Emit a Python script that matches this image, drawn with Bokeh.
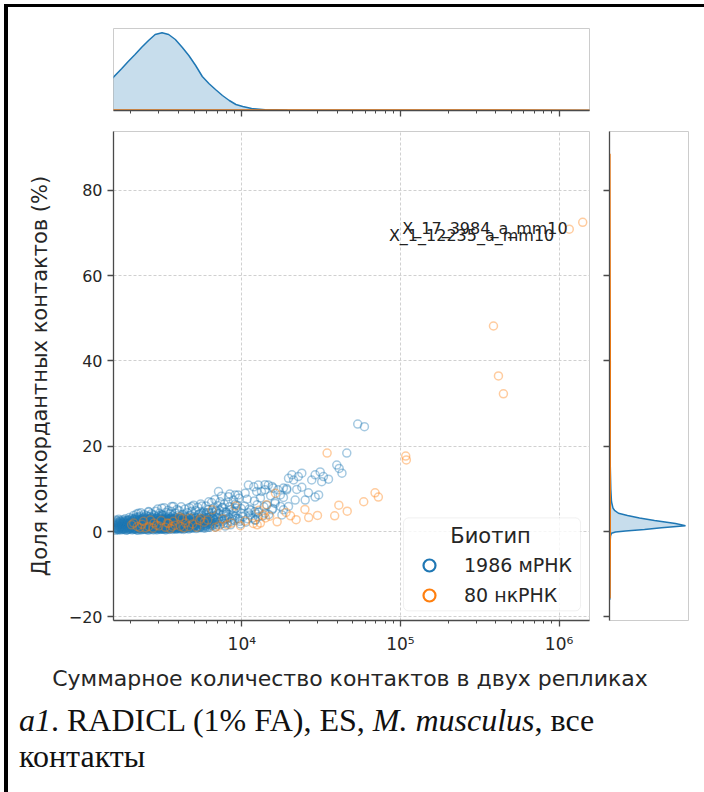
from bokeh.plotting import figure
from bokeh.models import (FixedTicker, Range1d, Legend, LegendItem, BoxAnnotation,
                          Label, Div, Spacer, BasicTickFormatter)
from bokeh.layouts import column, row
from bokeh.embed import file_html
from bokeh.resources import INLINE
from bokeh.core.properties import value

# ---------------- data ----------------
# mRNA: (total contacts in two replicates, concordant share %)
mrna_points = [
    (1590, 0.6), (1600, 1.4), (1615, 2.2), (1630, 0.9), (1650, 1.8), (1670, 0.4), (1690, 1.2), (1710, 2.6), (1725, 0.8), (1740, 1.6), (1760, 2.0), (1775, 0.5),
    (1785, 1.1), (1795, 2.4), (1810, 0.5), (1825, 1.7), (1840, 3.0), (1855, 0.9), (1870, 2.1), (1880, 1.4), (1895, 0.4), (1910, 2.7), (1925, 1.0), (1940, 1.9), (1955, 3.3), (1965, 0.7), (1980, 1.5), (1990, 2.3),
    (2000, 0.8), (2010, 1.9), (2025, 3.1), (2040, 0.4), (2050, 1.3), (2065, 2.5), (2080, 3.8), (2090, 0.9), (2105, 1.7), (2120, 2.9), (2130, 0.5), (2145, 1.2), (2160, 2.2), (2170, 4.1), (2185, 0.8), (2195, 1.6), (2210, 3.4), (2220, 0.3), (2230, 2.0), (2235, 1.1),
    (2245, 1.5), (2255, 2.8), (2265, 0.6), (2280, 3.6), (2290, 1.0), (2300, 2.1), (2315, 4.4), (2325, 0.4), (2335, 1.7), (2350, 2.6), (2360, 0.9), (2375, 3.2), (2385, 1.3), (2400, 2.0), (2410, 0.5), (2420, 4.0), (2435, 1.1), (2445, 2.4), (2455, 3.0), (2470, 0.7), (2480, 1.8), (2490, 2.9), (2500, 1.2), (2508, 3.8),
    (2520, 0.6), (2530, 2.2), (2545, 1.4), (2555, 3.5), (2570, 0.3), (2580, 1.9), (2595, 4.6), (2605, 1.0), (2620, 2.7), (2630, 0.8), (2645, 1.6), (2655, 3.1), (2670, 2.3), (2680, 0.5), (2690, 4.2), (2705, 1.3), (2715, 2.0), (2730, 0.9), (2740, 3.4), (2750, 1.7), (2765, 2.6), (2775, 0.4), (2785, 1.1), (2795, 3.9), (2805, 2.1), (2815, 1.5),
    (2825, 2.9), (2835, 0.7), (2850, 1.6), (2860, 4.8), (2875, 2.3), (2885, 1.0), (2900, 3.3), (2915, 0.4), (2925, 1.9), (2940, 2.6), (2950, 5.3), (2965, 1.2), (2975, 3.7), (2990, 0.8), (3000, 2.0), (3015, 1.4), (3025, 4.3), (3040, 2.8), (3050, 0.5), (3065, 1.7), (3075, 3.0), (3090, 1.1), (3100, 2.4), (3115, 4.0), (3125, 0.9), (3140, 1.5), (3150, 3.5), (3160, 2.1),
    (3170, 1.3), (3185, 3.9), (3195, 0.6), (3210, 2.2), (3225, 1.7), (3240, 5.6), (3250, 2.9), (3265, 0.9), (3280, 1.5), (3295, 3.4), (3305, 2.5), (3320, 0.4), (3335, 4.5), (3350, 1.2), (3360, 2.0), (3375, 3.1), (3390, 0.8), (3400, 1.8), (3415, 2.7), (3430, 5.0), (3440, 1.0), (3455, 3.6), (3470, 2.3), (3480, 0.5), (3495, 1.6), (3510, 4.1), (3525, 2.6), (3540, 1.1),
    (3555, 3.0), (3570, 0.7), (3590, 2.0), (3605, 4.7), (3620, 1.4), (3640, 2.8), (3655, 0.5), (3670, 3.7), (3690, 1.9), (3705, 5.9), (3720, 1.1), (3740, 2.5), (3755, 3.3), (3770, 0.8), (3790, 1.6), (3805, 4.3), (3820, 2.2), (3840, 1.0), (3855, 3.0), (3870, 0.6), (3890, 1.8), (3905, 5.2), (3920, 2.6), (3940, 1.3), (3955, 3.8), (3975, 2.0),
    (3990, 1.0), (4010, 2.9), (4030, 4.9), (4050, 1.7), (4070, 0.6), (4090, 3.5), (4110, 2.3), (4130, 1.2), (4150, 5.8), (4170, 2.7), (4190, 0.9), (4210, 1.9), (4230, 4.0), (4250, 3.1), (4270, 1.4), (4290, 0.5), (4310, 2.4), (4330, 3.9), (4350, 1.1), (4370, 2.0), (4390, 5.3), (4410, 2.8), (4430, 1.5), (4455, 3.3),
    (4480, 0.8), (4510, 2.2), (4540, 4.4), (4570, 1.6), (4600, 3.0), (4630, 0.6), (4660, 5.6), (4690, 2.5), (4720, 1.3), (4750, 3.8), (4780, 2.0), (4810, 0.9), (4840, 4.8), (4870, 1.8), (4900, 3.2), (4930, 2.7), (4955, 1.1), (4975, 6.2), (4990, 2.3), (5005, 3.6),
    (5030, 1.4), (5070, 3.1), (5110, 4.9), (5150, 0.7), (5190, 2.6), (5230, 1.8), (5270, 5.7), (5310, 3.4), (5350, 2.1), (5390, 1.0), (5430, 4.2), (5470, 2.8), (5510, 6.5), (5550, 1.6), (5590, 3.7), (5610, 2.4), (5130, 2.0), (5450, 0.9),
    (5650, 2.9), (5700, 1.2), (5750, 4.6), (5800, 3.3), (5850, 0.8), (5900, 2.1), (5950, 6.0), (6000, 3.9), (6050, 1.6), (6100, 5.1), (6150, 2.5), (6200, 7.0), (6250, 1.0), (6290, 3.5), (5980, 4.4), (6120, 2.2),
    (6350, 2.0), (6420, 4.3), (6490, 1.4), (6560, 3.1), (6630, 5.5), (6700, 2.6), (6770, 7.5), (6840, 1.1), (6910, 3.9), (6980, 2.3), (7040, 6.1), (6600, 1.8), (6880, 4.8), (6450, 6.8),
    (7150, 3.0), (7250, 5.0), (7350, 1.7), (7450, 8.3), (7550, 2.4), (7650, 4.1), (7750, 6.4), (7850, 1.3), (7920, 3.6), (7300, 7.0), (7600, 5.7), (7800, 2.8),
    (8000, 4.5), (8100, 2.0), (8200, 6.9), (8300, 3.3), (8400, 8.8), (8500, 1.6), (8600, 5.2), (8700, 2.9), (8850, 7.4), (8250, 4.0), (8750, 3.8),
    (9000, 2.6), (9200, 5.5), (9400, 3.1), (9600, 7.8), (9800, 1.8), (9950, 4.3), (9100, 6.4), (9500, 8.6), (9700, 2.4), (9300, 4.9),
    (10200, 3.5), (10400, 6.0), (10600, 2.2), (10800, 7.6), (11000, 4.4), (11150, 5.3), (10500, 9.0), (10900, 3.0),
    (11400, 5.0), (11700, 3.2), (12000, 7.2), (12300, 4.1), (12500, 6.3), (11900, 10.5), (12200, 2.7),
    (12800, 4.6), (13100, 7.9), (13500, 3.6), (13800, 5.8), (14000, 11.0), (13300, 9.4),
    (14400, 6.2), (14800, 4.0), (15200, 8.4), (15500, 10.6), (15700, 5.4),
    (16200, 7.0), (16900, 9.8), (17500, 5.9), (18300, 8.0), (19200, 10.1),
    (53800, 25.2), (59300, 24.6), (45900, 18.4), (39700, 15.6), (41100, 14.8), (42800, 13.7),
    (35200, 12.3), (31900, 11.7), (32700, 12.9), (31200, 14.0), (27600, 12.1), (29000, 13.3),
    (23900, 13.7), (22700, 12.9), (20700, 13.3), (19700, 12.5), (21200, 12.1),
    (23900, 10.4), (26300, 9.1), (29000, 8.1), (30500, 8.6), (25100, 7.4), (22200, 9.9), (21700, 7.4),
    (18300, 10.2), (19200, 9.8), (17500, 8.6), (15800, 10.2), (14700, 10.9), (14000, 9.8),
    (12700, 10.9), (11000, 10.9), (12400, 9.4), (7130, 9.4), (8240, 8.2), (9080, 8.6),
    (16200, 6.6), (15500, 5.1), (14000, 4.3), (12100, 4.7), (18300, 5.1), (19700, 5.9), (17900, 3.9),
    (12100, 2.7), (12700, 3.5), (11300, 3.9), (5600, 6.0), (4840, 5.9), (3620, 5.9), (3130, 5.5),
    (2580, 4.7), (2230, 4.3),
]
# mRNA points inside the dense core (same series)
mrna_core_points = [
    (1585, 1.0), (1595, 1.9), (1605, 0.3), (1620, 1.2), (1635, 2.5), (1645, 0.7), (1660, 1.5), (1675, 2.9), (1685, 0.5), (1700, 1.9), (1715, 1.0), (1735, 2.3), (1750, 0.6), (1765, 1.3), (1780, 2.8), (1800, 1.6), (1815, 0.8), (1830, 2.2), (1850, 1.4), (1865, 0.3), (1885, 1.9), (1900, 1.0), (1920, 2.5), (1935, 0.6), (1950, 1.4), (1970, 2.0), (1985, 0.9),
    (2005, 2.6), (2020, 1.0), (2035, 1.7), (2055, 0.6), (2070, 2.0), (2085, 1.4), (2100, 3.0), (2115, 0.7), (2135, 1.9), (2150, 2.7), (2165, 1.1), (2180, 0.4), (2200, 2.4), (2215, 1.5), (2240, 0.7), (2250, 3.2), (2270, 1.2), (2285, 2.3), (2305, 0.8), (2320, 1.6), (2340, 3.0), (2355, 2.0), (2370, 0.6), (2390, 1.5), (2405, 2.7), (2425, 1.0), (2440, 1.9), (2460, 0.5), (2475, 2.4), (2495, 1.6),
    (2515, 2.9), (2535, 1.1), (2550, 0.5), (2565, 2.0), (2585, 1.3), (2600, 3.0), (2615, 0.7), (2635, 1.8), (2650, 2.4), (2665, 1.0), (2685, 3.3), (2700, 1.6), (2720, 0.6), (2735, 2.2), (2755, 1.2), (2770, 2.9), (2790, 0.7), (2810, 1.9), (2830, 1.2), (2845, 2.5), (2865, 0.6), (2880, 1.7), (2895, 2.2), (2910, 1.0), (2930, 3.0), (2945, 1.6), (2960, 0.6), (2980, 2.4), (2995, 1.3), (3010, 0.7), (3030, 2.0), (3045, 1.2), (3060, 2.9), (3080, 0.6), (3095, 1.8), (3110, 2.5), (3130, 1.0), (3145, 3.1), (3165, 0.8),
    (3180, 1.9), (3200, 2.7), (3220, 1.0), (3235, 0.5), (3255, 1.6), (3270, 2.4), (3290, 0.9), (3310, 1.9), (3330, 3.0), (3345, 0.7), (3370, 1.5), (3385, 2.3), (3405, 1.1), (3425, 0.6), (3445, 2.0), (3465, 1.4), (3485, 2.9), (3505, 0.8), (3520, 1.7), (3545, 2.3), (3565, 1.0), (3580, 3.3), (3600, 0.9), (3625, 2.2), (3645, 1.2), (3665, 2.6), (3685, 0.7), (3710, 1.5), (3730, 3.0), (3750, 1.0), (3775, 2.1), (3800, 1.3), (3825, 0.6), (3845, 2.5), (3865, 1.5), (3895, 0.8), (3915, 2.0), (3935, 1.0), (3960, 2.9), (3985, 1.6),
    (4020, 0.8), (4040, 2.2), (4060, 1.3), (4080, 3.0), (4100, 1.0), (4120, 1.8), (4140, 2.6), (4165, 0.7), (4185, 1.6), (4205, 3.2), (4225, 1.2), (4245, 2.1), (4265, 0.8), (4285, 1.7), (4305, 3.0), (4325, 1.0), (4345, 2.3), (4365, 1.4), (4385, 0.7), (4405, 2.0), (4425, 3.5), (4445, 1.1), (4470, 2.4), (4500, 1.3), (4530, 0.9), (4560, 2.8), (4590, 1.9), (4620, 1.1), (4650, 3.4), (4680, 1.6), (4710, 0.8), (4740, 2.2), (4770, 1.3), (4800, 3.0), (4830, 1.0), (4860, 2.5), (4890, 1.5), (4920, 0.8), (4950, 2.0), (4980, 1.2),
    (5050, 2.5), (5090, 1.3), (5120, 3.3), (5170, 1.9), (5210, 0.9), (5250, 2.7), (5290, 1.6), (5330, 4.0), (5370, 1.2), (5410, 2.3), (5460, 3.1), (5500, 1.1), (5540, 2.0), (5580, 4.4), (5630, 1.5), (5680, 2.6), (5720, 0.9), (5780, 3.0), (5830, 1.8), (5880, 4.0), (5930, 1.3), (5990, 2.5), (6040, 3.3), (6090, 1.0), (6140, 2.0), (6190, 4.5), (6240, 2.9), (6300, 1.5), (6380, 3.4), (6470, 2.4), (6540, 4.6), (6620, 1.5), (6720, 3.6), (6800, 2.1), (6900, 5.0), (6960, 1.6),
    (7100, 2.2), (7200, 4.2), (7400, 2.9), (7500, 5.6), (7700, 1.9), (7900, 4.6), (8050, 3.0), (8350, 5.8), (8550, 2.4), (8800, 4.8), (9050, 3.6), (9350, 6.2), (9650, 2.9), (9900, 5.4),
]
mrna_core_points_2 = [
    (1588, 1.6), (1598, 0.8), (1612, 2.7), (1625, 1.5), (1640, 0.5), (1655, 2.1), (1665, 1.0), (1680, 1.7), (1695, 0.7), (1705, 2.3), (1720, 1.4), (1730, 0.4), (1745, 2.0), (1755, 1.1), (1770, 1.8), (1790, 0.7), (1805, 2.0), (1820, 1.2), (1835, 0.6), (1845, 2.6), (1860, 1.7), (1875, 0.9), (1890, 2.4), (1905, 1.5), (1915, 0.6), (1930, 2.1), (1945, 1.2), (1960, 2.8), (1975, 0.5), (1995, 1.8),
    (2015, 1.2), (2030, 2.3), (2045, 0.9), (2060, 1.6), (2075, 2.8), (2095, 0.6), (2110, 2.2), (2125, 1.3), (2140, 3.3), (2155, 0.7), (2175, 1.8), (2190, 2.9), (2205, 1.0), (2225, 2.6), (2260, 1.9), (2275, 0.7), (2295, 2.7), (2310, 1.4), (2330, 2.2), (2345, 0.6), (2365, 1.9), (2380, 2.9), (2395, 1.0), (2415, 1.6), (2430, 3.4), (2450, 1.3), (2465, 2.1), (2485, 0.9), (2505, 2.6),
    (2525, 1.7), (2540, 0.8), (2560, 2.5), (2575, 1.2), (2590, 2.1), (2610, 1.6), (2625, 3.6), (2640, 1.1), (2660, 2.0), (2675, 0.9), (2695, 2.6), (2710, 1.1), (2725, 1.9), (2745, 2.7), (2760, 0.8), (2780, 2.0), (2800, 1.3), (2820, 2.4), (2840, 1.0), (2855, 1.9), (2870, 3.1), (2890, 1.3), (2905, 2.5), (2920, 0.9), (2935, 1.6), (2955, 2.2), (2970, 0.9), (2985, 3.2), (3005, 1.6), (3020, 2.5), (3035, 0.9), (3055, 1.5), (3070, 2.2), (3085, 3.4), (3105, 1.4), (3120, 2.0), (3135, 0.6), (3155, 1.8),
    (3175, 2.5), (3190, 1.1), (3215, 3.0), (3230, 1.3), (3245, 2.0), (3260, 0.8), (3285, 2.5), (3300, 1.2), (3325, 2.2), (3340, 1.5), (3355, 2.8), (3380, 0.9), (3395, 2.0), (3420, 1.4), (3435, 2.6), (3450, 0.8), (3475, 1.9), (3490, 2.5), (3515, 1.0), (3535, 3.0),
    (3560, 1.7), (3585, 2.6), (3610, 1.1), (3630, 1.9), (3660, 3.0), (3680, 1.4), (3700, 2.4), (3725, 0.8), (3745, 1.8), (3765, 2.8), (3785, 1.2), (3810, 2.0), (3835, 3.1), (3860, 1.0), (3880, 2.2), (3910, 1.4), (3930, 2.7), (3950, 0.9), (3970, 1.7),
    (4000, 2.4), (4045, 1.4), (4085, 2.1), (4125, 0.9), (4160, 2.4), (4200, 1.5), (4240, 2.7), (4280, 1.0), (4320, 1.8), (4360, 2.8), (4400, 1.2), (4440, 2.2), (4490, 1.7), (4550, 2.4), (4610, 1.3), (4670, 2.1), (4730, 1.6), (4790, 2.6), (4850, 1.3), (4910, 2.3), (4970, 1.6),
    (5060, 1.9), (5160, 2.4), (5280, 1.3), (5400, 2.9), (5520, 1.7), (5660, 2.3), (5810, 1.4), (5960, 3.0), (6110, 1.8), (6260, 2.4), (6420, 1.8), (6600, 3.0), (6780, 2.8), (6950, 3.4),
]
# ncRNA
ncrna_points = [
    (1410000, 72.5), (1160000, 70.9), (386000, 48.2), (415000, 36.5), (446000, 32.3),
    (108000, 17.7), (109000, 16.8), (69200, 9.1), (72600, 8.1),
    (34500, 18.4), (58700, 7.0), (40900, 6.2), (46200, 4.8), (38500, 3.7), (26400, 3.3),
    (20300, 3.7), (16700, 2.3), (14100, 3.2), (13100, 2.0), (12500, 1.6), (16300, 9.0),
    (14300, 6.3), (9120, 6.0), (6500, 5.1), (8090, 1.6), (7160, 1.3), (4640, 1.2),
    (4100, 1.2), (4420, 2.0), (4210, 3.1), (5500, 3.1), (3640, 1.2), (3390, 2.0),
    (3000, 1.3), (2790, 2.0), (2590, 1.2), (2470, 0.9), (2080, 2.0), (2190, 1.2), (2650, 2.7),
    (2900, 1.5), (3300, 1.0), (3700, 2.4), (4900, 1.8), (5200, 1.0), (6100, 2.7), (2350, 1.7),
    (3100, 2.6), (3800, 1.5), (4300, 0.9), (5800, 2.2), (7600, 3.0), (10500, 2.5), (11800, 1.9),
    (15000, 3.6), (2750, 0.8), (3450, 1.9), (4050, 3.4), (6800, 1.0), (8600, 2.0), (12800, 5.0),
    (22000, 2.8), (2020, 1.6), (2400, 2.4), (3550, 0.7), (4700, 3.2), (5400, 2.6), (9800, 1.4),
    (13700, 3.9), (19000, 4.5), (25000, 5.2), (30000, 3.8), (2280, 0.9),
]
mrna_all = mrna_points + mrna_core_points + mrna_core_points_2
mrna_contacts = [q[0] for q in mrna_all]
mrna_pct = [q[1] for q in mrna_all]
ncrna_contacts = [q[0] for q in ncrna_points]
ncrna_pct = [q[1] for q in ncrna_points]

outlier_contacts = [1410000, 1160000]
outlier_pct = [72.5, 70.9]
outlier_labels = ["X_17_3984_a_mm10", "X_1_12235_a_mm10"]

# marginal densities (top: over contacts, right: over %)
top_kde_mrna_x = [1200, 1400, 1552, 1746, 1923, 2123, 2339, 2582, 2844, 3141, 3459, 3811, 4207,
                  4634, 5117, 5636, 6223, 6855, 7551, 8337, 9183, 10139, 11535, 14028, 19409,
                  28708, 60000, 2000000]
top_kde_mrna_h = [18, 26, 33.3, 41.7, 49, 56, 63.3, 70, 76, 77.7, 76, 71, 63.3,
                  55, 45, 34, 26.7, 20.7, 15, 10, 6, 4, 2, 0.7, 0.2,
                  0.05, 0, 0]
top_kde_nc_x = [1200, 5000, 20000, 100000, 400000, 2000000]
top_kde_nc_h = [0.4, 0.6, 0.5, 0.4, 0.4, 0.3]

right_kde_mrna_y = [-16, -3, -1, -0.4, -0.1, 0.15, 0.5, 0.9, 1.4, 1.9, 2.6, 3.2, 3.8, 4.3,
                    5.0, 5.5, 7, 10, 15, 20, 26.5]
right_kde_mrna_w = [0.3, 0.5, 1, 2, 6, 16, 35, 52, 76, 66, 45, 30, 18, 9,
                    5, 3.5, 2, 1.3, 0.8, 0.5, 0.3]
right_kde_nc_y = [-15.6, 0, 20, 40, 60, 88.6]
right_kde_nc_w = [0.5, 0.8, 0.7, 0.8, 0.6, 0.4]

legend_title = "Биотип"
legend_labels = ["1986 мРНК", "80 нкРНК"]
x_label = "Суммарное количество контактов в двух репликах"
y_label = "Доля конкордантных контактов (%)"
caption_html = "<i>a1</i>. RADICL (1% FA), ES, <i>M. musculus</i>, все<br>контакты"

x_major_ticks = [1000, 10000, 100000, 1000000, 10000000]
x_major_labels = ["10³", "10⁴", "10⁵", "10⁶", "10⁷"]
x_minor_ticks = [m * 10 ** e for e in range(3, 7) for m in range(2, 10)]
y_ticks = [-20, 0, 20, 40, 60, 80]
y_tick_labels = ["−20", "0", "20", "40", "60", "80"]

# ---------------- style ----------------
BLUE = "#1f77b4"
ORANGE = "#ff7f0e"
SPINE = "#4a4a4a"
LIGHT = "#cccccc"
TEXT = "#262626"
FONT = "DejaVu Sans"

X_RANGE = Range1d(1553, 1556000)
Y_RANGE = Range1d(-20.84, 93.8)


def base_fig(**kw):
    f = figure(output_backend="svg", toolbar_location=None, **kw)
    f.outline_line_color = LIGHT
    f.outline_line_width = 1
    f.background_fill_color = "white"
    f.border_fill_color = "white"
    return f


def style_axis(ax, show_labels=True):
    ax.axis_line_color = SPINE
    ax.axis_line_width = 1.3
    ax.major_tick_line_color = SPINE
    ax.major_tick_line_width = 1.3
    ax.major_tick_out = 6
    ax.major_tick_in = 0
    ax.minor_tick_line_color = SPINE
    ax.minor_tick_line_width = 1
    ax.minor_tick_out = 3
    ax.minor_tick_in = 0
    ax.major_label_text_font = FONT
    if show_labels:
        ax.major_label_text_font_size = "16px"
        ax.major_label_text_color = TEXT
    else:
        # ticks only: labels are not drawn
        ax.major_label_text_font_size = "1px"
        ax.major_label_text_color = None
        ax.major_label_standoff = 0


x_ticker = FixedTicker(ticks=x_major_ticks, minor_ticks=x_minor_ticks)
x_overrides = dict(zip(x_major_ticks, x_major_labels))
y_ticker = FixedTicker(ticks=y_ticks)
y_overrides = dict(zip(y_ticks, y_tick_labels))

# ---------------- main scatter ----------------
p = base_fig(width=595, height=536, x_axis_type="log", x_range=X_RANGE, y_range=Y_RANGE,
             min_border_left=105, min_border_right=14, min_border_top=1, min_border_bottom=46)
p.xaxis.ticker = x_ticker
p.xaxis.formatter = BasicTickFormatter()
p.xaxis.major_label_overrides = x_overrides
p.yaxis.ticker = y_ticker
p.yaxis.major_label_overrides = y_overrides
style_axis(p.xaxis[0])
style_axis(p.yaxis[0])
p.xaxis.major_label_text_font_size = "17px"
p.yaxis.minor_tick_line_color = None
p.xaxis.major_label_standoff = 7
p.yaxis.major_label_standoff = 5
p.yaxis.axis_label = y_label
p.yaxis.axis_label_text_font = FONT
p.yaxis.axis_label_text_font_size = "21px"
p.yaxis.axis_label_text_font_style = "normal"
p.yaxis.axis_label_text_color = TEXT
p.yaxis.axis_label_standoff = 14
for g in (p.xgrid[0], p.ygrid[0]):
    g.grid_line_color = "#d0d0d0"
    g.grid_line_dash = "3 2"
    g.grid_line_width = 1

p.scatter(mrna_contacts, mrna_pct, marker="circle", size=8, fill_color=None,
          line_color=BLUE, line_alpha=0.4, line_width=1.5)
p.scatter(ncrna_contacts, ncrna_pct, marker="circle", size=8, fill_color=None,
          line_color=ORANGE, line_alpha=0.4, line_width=1.5)

p.text(x=outlier_contacts, y=outlier_pct, text=outlier_labels, text_align="right",
       text_baseline="alphabetic", x_offset=-15, y_offset=6,
       text_font=value(FONT), text_font_size="16px", text_color="#222222")

# legend (box + centred title + items)
legend_box = BoxAnnotation(left=104600, right=1366000, bottom=-18.57, top=3.21,
                           fill_color="white", fill_alpha=0.8, line_color=LIGHT,
                           line_width=1, border_radius=5)
p.add_layout(legend_box)
p.add_layout(Label(x=369800, y=-1.0, text=legend_title, text_align="center",
                   text_baseline="alphabetic", text_font=FONT, text_font_size="21px",
                   text_color=TEXT))
# legend keys: full-opacity copies of the series, hidden on the plot itself
key_m = p.scatter(mrna_contacts[:1], mrna_pct[:1], marker="circle", size=14, fill_color=None,
                  line_color=BLUE, line_width=2.2, visible=False)
key_n = p.scatter(ncrna_contacts[:1], ncrna_pct[:1], marker="circle", size=14, fill_color=None,
                  line_color=ORANGE, line_width=2.2, visible=False)
legend = Legend(items=[LegendItem(label=legend_labels[0], renderers=[key_m]),
                       LegendItem(label=legend_labels[1], renderers=[key_n])],
                location=(301, 10), glyph_width=30, glyph_height=30, spacing=0,
                padding=0, margin=0, label_standoff=20,
                border_line_color=None, background_fill_alpha=0,
                inactive_fill_alpha=0,
                label_text_font=FONT, label_text_font_size="19px",
                label_text_color=TEXT)
p.add_layout(legend)

# ---------------- top marginal ----------------
pt = base_fig(width=696, height=123, x_axis_type="log", x_range=X_RANGE,
              y_range=Range1d(0, 82), min_border_left=105, min_border_right=115,
              min_border_top=21, min_border_bottom=20)
pt.xaxis.ticker = x_ticker
pt.xaxis.formatter = BasicTickFormatter()
style_axis(pt.xaxis[0], show_labels=False)
pt.yaxis.visible = False
pt.xgrid.visible = False
pt.ygrid.visible = False
pt.varea(x=top_kde_mrna_x, y1=0, y2=top_kde_mrna_h, fill_color=BLUE, fill_alpha=0.25)
pt.line(top_kde_mrna_x, top_kde_mrna_h, line_color=BLUE, line_width=1.5)
pt.varea(x=top_kde_nc_x, y1=0, y2=top_kde_nc_h, fill_color=ORANGE, fill_alpha=0.25)
pt.line(top_kde_nc_x, top_kde_nc_h, line_color=ORANGE, line_width=1.5)

# ---------------- right marginal ----------------
pr = base_fig(width=101, height=536, x_range=Range1d(0, 79), y_range=Y_RANGE,
              min_border_left=6, min_border_right=16, min_border_top=1, min_border_bottom=46)
pr.yaxis.ticker = y_ticker
style_axis(pr.yaxis[0], show_labels=False)
pr.yaxis.minor_tick_line_color = None
pr.xaxis.visible = False
pr.xgrid.visible = False
pr.ygrid.visible = False
pr.harea(y=right_kde_mrna_y, x1=0, x2=right_kde_mrna_w, fill_color=BLUE, fill_alpha=0.25)
pr.line(right_kde_mrna_w, right_kde_mrna_y, line_color=BLUE, line_width=1.5)
pr.harea(y=right_kde_nc_y, x1=0, x2=right_kde_nc_w, fill_color=ORANGE, fill_alpha=0.25)
pr.line(right_kde_nc_w, right_kde_nc_y, line_color=ORANGE, line_width=1.5)

# ---------------- x label, caption and frame ----------------
xlabel_div = Div(
    text=('<div style="font-family:\'DejaVu Sans\',sans-serif;font-size:22px;line-height:26px;'
          'color:#262626;text-align:center;white-space:nowrap;width:684px;">'
          + x_label + '</div>'),
    width=696, height=33, margin=0)

caption = Div(
    text=('<div style="font-family:\'Liberation Serif\',\'Times New Roman\',serif;'
          'font-size:32px;line-height:36px;color:#111;padding:3px 0 0 11px;">'
          + caption_html + '</div>'),
    width=696, height=86, margin=0)

top_bar = Div(text="", width=700, height=3, margin=0, styles={"background-color": "black"})
left_bar = Div(text="", width=4, height=785, margin=0, styles={"background-color": "black"})

inner = column(pt, row(p, pr), xlabel_div, caption)
framed = column(top_bar, row(left_bar, inner))
layout = column(Spacer(width=704, height=4), row(Spacer(width=4, height=788), framed))

open("out.html", "w").write(file_html(layout, INLINE))
